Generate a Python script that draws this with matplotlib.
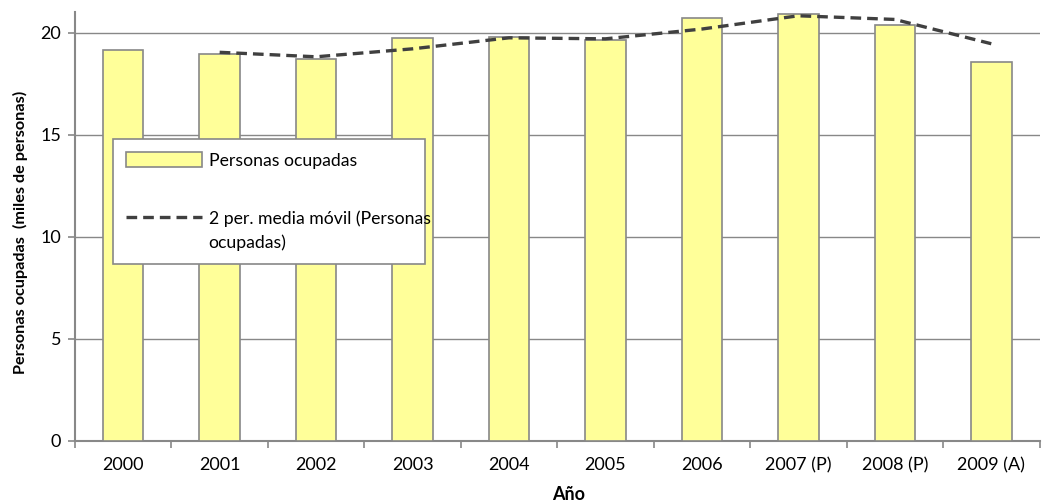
import numpy as np
import matplotlib
matplotlib.use("Agg")
import matplotlib.pyplot as plt
from matplotlib.legend_handler import HandlerLine2D

plt.rcParams['font.family'] = ['Lato', 'DejaVu Sans']

# --- datos ---
anios = ['2000', '2001', '2002', '2003', '2004', '2005', '2006', '2007 (P)', '2008 (P)', '2009 (A)']
ocupadas = [19.13, 18.93, 18.68, 19.71, 19.76, 19.61, 20.72, 20.92, 20.35, 18.55]
# media movil de 2 periodos (empieza en 2001)
media_movil = [19.03, 18.81, 19.2, 19.74, 19.69, 20.17, 20.82, 20.64, 19.45]

gris = '#888888'


# la linea de la leyenda va a la altura de la primera linea del texto
class HandlerArriba(HandlerLine2D):
    def create_artists(self, legend, orig_handle, xdescent, ydescent, width, height, fontsize, trans):
        artistas = super().create_artists(legend, orig_handle, xdescent, ydescent,
                                          width, height, fontsize, trans)
        for a in artistas:
            a.set_ydata(np.asarray(a.get_ydata()) + 0.75 * fontsize)
        return artistas


fig = plt.figure(figsize=(10.5, 5.04), dpi=100)
ax = fig.add_axes([0.0714, 0.1256, 0.9186, 0.8504])

x = np.arange(len(anios))
barras = ax.bar(x, ocupadas, width=0.42, color='#FFFF99', edgecolor=gris, linewidth=1.2,
                zorder=3, label='Personas ocupadas')
linea, = ax.plot(x[1:], media_movil, color='#404040', linestyle=(0, (3.2, 1.8)), linewidth=2.4,
                 zorder=4, label='2 per. media móvil (Personas\nocupadas)')

ax.set_xlim(-0.5, len(anios) - 0.5)
ax.set_ylim(0, 21)
ax.set_yticks([0, 5, 10, 15, 20])
ax.yaxis.grid(True, color=gris, linewidth=1, zorder=0)
ax.set_axisbelow(True)

ax.set_xticks(x)
ax.set_xticklabels(anios, fontsize=13)
ax.set_xticks(np.arange(-0.5, len(anios) + 0.5, 1), minor=True)
ax.tick_params(axis='x', which='major', length=0, pad=12)
ax.tick_params(axis='x', which='minor', length=5, color=gris, width=1.2)
ax.tick_params(axis='y', length=5, color=gris, width=1.2, labelsize=13, pad=5)

for lado in ['top', 'right']:
    ax.spines[lado].set_visible(False)
for lado in ['left', 'bottom']:
    ax.spines[lado].set_color(gris)
    ax.spines[lado].set_linewidth(1.5)

ax.set_ylabel('Personas ocupadas  (miles de personas)', fontsize=11.7, fontweight='bold')
ax.yaxis.set_label_coords(-0.049, 0.487)
fig.text(569 / 1050, 0.002, 'Año', fontsize=13, fontweight='bold', ha='center', va='bottom')

leg = ax.legend([barras, linea], ['Personas ocupadas', '2 per. media móvil (Personas\nocupadas)'],
                loc='upper left', bbox_to_anchor=(0.039, 0.424, 0.324, 0.28), mode='expand',
                borderaxespad=0, fontsize=12.7, frameon=True, fancybox=False, edgecolor=gris,
                framealpha=1, labelspacing=2.4, handlelength=4.3, handleheight=0.9,
                borderpad=0.75, handletextpad=0.4,
                handler_map={linea: HandlerArriba()})
leg.get_frame().set_linewidth(1.2)
for t in leg.get_texts():
    t.set_linespacing(1.5)

fig.savefig('out.png', dpi=100)
